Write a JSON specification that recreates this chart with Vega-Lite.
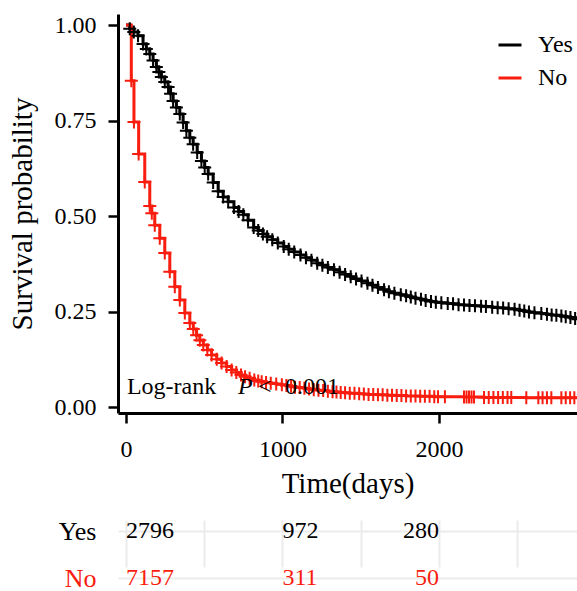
{
  "$schema": "https://vega.github.io/schema/vega-lite/v6.json",
  "padding": {"left": 8, "top": 13, "right": 0, "bottom": 0},
  "bounds": "flush",
  "spacing": 94,
  "config": {
    "font": "Liberation Serif",
    "view": {"stroke": null},
    "axis": {"labelColor": "#000000", "titleColor": "#000000", "titleFontWeight": "normal", "domainColor": "#000000", "tickColor": "#000000"}
  },
  "resolve": {"scale": {"color": "independent"}, "legend": {"color": "independent"}},
  "datasets": {
    "km": [
      {"g": "Yes", "t": 0, "s": 1.0},
      {"g": "Yes", "t": 24, "s": 0.99},
      {"g": "Yes", "t": 50, "s": 0.982},
      {"g": "Yes", "t": 77, "s": 0.972},
      {"g": "Yes", "t": 109, "s": 0.95},
      {"g": "Yes", "t": 130, "s": 0.937},
      {"g": "Yes", "t": 152, "s": 0.924},
      {"g": "Yes", "t": 173, "s": 0.907},
      {"g": "Yes", "t": 194, "s": 0.89},
      {"g": "Yes", "t": 210, "s": 0.877},
      {"g": "Yes", "t": 226, "s": 0.864},
      {"g": "Yes", "t": 248, "s": 0.851},
      {"g": "Yes", "t": 269, "s": 0.838},
      {"g": "Yes", "t": 285, "s": 0.82},
      {"g": "Yes", "t": 301, "s": 0.801},
      {"g": "Yes", "t": 322, "s": 0.784},
      {"g": "Yes", "t": 344, "s": 0.767},
      {"g": "Yes", "t": 365, "s": 0.745},
      {"g": "Yes", "t": 386, "s": 0.723},
      {"g": "Yes", "t": 408, "s": 0.705},
      {"g": "Yes", "t": 429, "s": 0.688},
      {"g": "Yes", "t": 455, "s": 0.666},
      {"g": "Yes", "t": 482, "s": 0.644},
      {"g": "Yes", "t": 503, "s": 0.627},
      {"g": "Yes", "t": 525, "s": 0.61},
      {"g": "Yes", "t": 557, "s": 0.588},
      {"g": "Yes", "t": 589, "s": 0.565},
      {"g": "Yes", "t": 621, "s": 0.55},
      {"g": "Yes", "t": 653, "s": 0.537},
      {"g": "Yes", "t": 690, "s": 0.522},
      {"g": "Yes", "t": 720, "s": 0.512},
      {"g": "Yes", "t": 750, "s": 0.503},
      {"g": "Yes", "t": 780, "s": 0.489},
      {"g": "Yes", "t": 816, "s": 0.47},
      {"g": "Yes", "t": 845, "s": 0.462},
      {"g": "Yes", "t": 875, "s": 0.453},
      {"g": "Yes", "t": 902, "s": 0.446},
      {"g": "Yes", "t": 935, "s": 0.438},
      {"g": "Yes", "t": 970, "s": 0.429},
      {"g": "Yes", "t": 1008, "s": 0.42},
      {"g": "Yes", "t": 1040, "s": 0.413},
      {"g": "Yes", "t": 1075, "s": 0.406},
      {"g": "Yes", "t": 1115, "s": 0.398},
      {"g": "Yes", "t": 1150, "s": 0.391},
      {"g": "Yes", "t": 1185, "s": 0.384},
      {"g": "Yes", "t": 1222, "s": 0.376},
      {"g": "Yes", "t": 1255, "s": 0.371},
      {"g": "Yes", "t": 1290, "s": 0.365},
      {"g": "Yes", "t": 1329, "s": 0.359},
      {"g": "Yes", "t": 1365, "s": 0.353},
      {"g": "Yes", "t": 1400, "s": 0.347},
      {"g": "Yes", "t": 1436, "s": 0.341},
      {"g": "Yes", "t": 1470, "s": 0.335},
      {"g": "Yes", "t": 1505, "s": 0.33},
      {"g": "Yes", "t": 1543, "s": 0.324},
      {"g": "Yes", "t": 1575, "s": 0.319},
      {"g": "Yes", "t": 1610, "s": 0.313},
      {"g": "Yes", "t": 1649, "s": 0.307},
      {"g": "Yes", "t": 1680, "s": 0.302},
      {"g": "Yes", "t": 1715, "s": 0.298},
      {"g": "Yes", "t": 1756, "s": 0.294},
      {"g": "Yes", "t": 1790, "s": 0.291},
      {"g": "Yes", "t": 1820, "s": 0.288},
      {"g": "Yes", "t": 1850, "s": 0.285},
      {"g": "Yes", "t": 1885, "s": 0.282},
      {"g": "Yes", "t": 1915, "s": 0.279},
      {"g": "Yes", "t": 1949, "s": 0.276},
      {"g": "Yes", "t": 1980, "s": 0.274},
      {"g": "Yes", "t": 2015, "s": 0.273},
      {"g": "Yes", "t": 2056, "s": 0.271},
      {"g": "Yes", "t": 2090, "s": 0.27},
      {"g": "Yes", "t": 2125, "s": 0.268},
      {"g": "Yes", "t": 2160, "s": 0.267},
      {"g": "Yes", "t": 2195, "s": 0.266},
      {"g": "Yes", "t": 2230, "s": 0.265},
      {"g": "Yes", "t": 2269, "s": 0.264},
      {"g": "Yes", "t": 2300, "s": 0.263},
      {"g": "Yes", "t": 2340, "s": 0.261},
      {"g": "Yes", "t": 2375, "s": 0.26},
      {"g": "Yes", "t": 2410, "s": 0.259},
      {"g": "Yes", "t": 2445, "s": 0.257},
      {"g": "Yes", "t": 2483, "s": 0.256},
      {"g": "Yes", "t": 2515, "s": 0.253},
      {"g": "Yes", "t": 2545, "s": 0.251},
      {"g": "Yes", "t": 2575, "s": 0.249},
      {"g": "Yes", "t": 2610, "s": 0.247},
      {"g": "Yes", "t": 2654, "s": 0.245},
      {"g": "Yes", "t": 2690, "s": 0.243},
      {"g": "Yes", "t": 2720, "s": 0.241},
      {"g": "Yes", "t": 2750, "s": 0.24},
      {"g": "Yes", "t": 2782, "s": 0.238},
      {"g": "Yes", "t": 2810, "s": 0.236},
      {"g": "Yes", "t": 2840, "s": 0.234},
      {"g": "Yes", "t": 2870, "s": 0.232},
      {"g": "Yes", "t": 2889, "s": 0.23},
      {"g": "No", "t": 0, "s": 1.0},
      {"g": "No", "t": 34, "s": 0.854},
      {"g": "No", "t": 51, "s": 0.746},
      {"g": "No", "t": 81, "s": 0.662},
      {"g": "No", "t": 120, "s": 0.589},
      {"g": "No", "t": 152, "s": 0.526},
      {"g": "No", "t": 165, "s": 0.507},
      {"g": "No", "t": 184, "s": 0.476},
      {"g": "No", "t": 216, "s": 0.442},
      {"g": "No", "t": 248, "s": 0.403},
      {"g": "No", "t": 280, "s": 0.354},
      {"g": "No", "t": 312, "s": 0.315},
      {"g": "No", "t": 344, "s": 0.28},
      {"g": "No", "t": 376, "s": 0.246},
      {"g": "No", "t": 408, "s": 0.22},
      {"g": "No", "t": 430, "s": 0.204},
      {"g": "No", "t": 451, "s": 0.188},
      {"g": "No", "t": 472, "s": 0.175},
      {"g": "No", "t": 494, "s": 0.162},
      {"g": "No", "t": 520, "s": 0.149},
      {"g": "No", "t": 547, "s": 0.136},
      {"g": "No", "t": 580, "s": 0.125},
      {"g": "No", "t": 611, "s": 0.115},
      {"g": "No", "t": 643, "s": 0.106},
      {"g": "No", "t": 675, "s": 0.097},
      {"g": "No", "t": 705, "s": 0.09},
      {"g": "No", "t": 735, "s": 0.084},
      {"g": "No", "t": 761, "s": 0.079},
      {"g": "No", "t": 790, "s": 0.075},
      {"g": "No", "t": 820, "s": 0.071},
      {"g": "No", "t": 845, "s": 0.068},
      {"g": "No", "t": 867, "s": 0.066},
      {"g": "No", "t": 895, "s": 0.064},
      {"g": "No", "t": 925, "s": 0.062},
      {"g": "No", "t": 960, "s": 0.06},
      {"g": "No", "t": 996, "s": 0.058},
      {"g": "No", "t": 1025, "s": 0.056},
      {"g": "No", "t": 1055, "s": 0.054},
      {"g": "No", "t": 1080, "s": 0.052},
      {"g": "No", "t": 1110, "s": 0.051},
      {"g": "No", "t": 1140, "s": 0.049},
      {"g": "No", "t": 1170, "s": 0.047},
      {"g": "No", "t": 1200, "s": 0.045},
      {"g": "No", "t": 1230, "s": 0.044},
      {"g": "No", "t": 1260, "s": 0.043},
      {"g": "No", "t": 1290, "s": 0.041},
      {"g": "No", "t": 1320, "s": 0.04},
      {"g": "No", "t": 1345, "s": 0.039},
      {"g": "No", "t": 1372, "s": 0.038},
      {"g": "No", "t": 1400, "s": 0.037},
      {"g": "No", "t": 1430, "s": 0.036},
      {"g": "No", "t": 1460, "s": 0.036},
      {"g": "No", "t": 1490, "s": 0.035},
      {"g": "No", "t": 1520, "s": 0.034},
      {"g": "No", "t": 1550, "s": 0.033},
      {"g": "No", "t": 1580, "s": 0.033},
      {"g": "No", "t": 1610, "s": 0.032},
      {"g": "No", "t": 1640, "s": 0.032},
      {"g": "No", "t": 1670, "s": 0.031},
      {"g": "No", "t": 1700, "s": 0.031},
      {"g": "No", "t": 1730, "s": 0.03},
      {"g": "No", "t": 1760, "s": 0.03},
      {"g": "No", "t": 1790, "s": 0.029},
      {"g": "No", "t": 1820, "s": 0.029},
      {"g": "No", "t": 1850, "s": 0.029},
      {"g": "No", "t": 1880, "s": 0.028},
      {"g": "No", "t": 1910, "s": 0.028},
      {"g": "No", "t": 1940, "s": 0.028},
      {"g": "No", "t": 1970, "s": 0.027},
      {"g": "No", "t": 1994, "s": 0.027},
      {"g": "No", "t": 2038, "s": 0.027},
      {"g": "No", "t": 2160, "s": 0.026},
      {"g": "No", "t": 2176, "s": 0.026},
      {"g": "No", "t": 2192, "s": 0.026},
      {"g": "No", "t": 2208, "s": 0.026},
      {"g": "No", "t": 2224, "s": 0.026},
      {"g": "No", "t": 2288, "s": 0.025},
      {"g": "No", "t": 2318, "s": 0.025},
      {"g": "No", "t": 2348, "s": 0.025},
      {"g": "No", "t": 2378, "s": 0.025},
      {"g": "No", "t": 2408, "s": 0.025},
      {"g": "No", "t": 2438, "s": 0.025},
      {"g": "No", "t": 2462, "s": 0.025},
      {"g": "No", "t": 2558, "s": 0.024},
      {"g": "No", "t": 2635, "s": 0.024},
      {"g": "No", "t": 2662, "s": 0.024},
      {"g": "No", "t": 2690, "s": 0.024},
      {"g": "No", "t": 2718, "s": 0.024},
      {"g": "No", "t": 2782, "s": 0.024},
      {"g": "No", "t": 2810, "s": 0.024},
      {"g": "No", "t": 2838, "s": 0.024},
      {"g": "No", "t": 2865, "s": 0.024},
      {"g": "No", "t": 2890, "s": 0.024}
    ],
    "risk": [
      {"g": "Yes", "t": 0, "n": 2796},
      {"g": "Yes", "t": 1000, "n": 972},
      {"g": "Yes", "t": 2000, "n": 280},
      {"g": "No", "t": 0, "n": 7157},
      {"g": "No", "t": 1000, "n": 311},
      {"g": "No", "t": 2000, "n": 50}
    ],
    "note": [
      {"part": "Log-rank", "t": 6, "s": 0.034},
      {"part": "P", "t": 716, "s": 0.034},
      {"part": "<", "t": 843, "s": 0.034},
      {"part": "0.001", "t": 1016, "s": 0.034}
    ]
  },
  "vconcat": [
    {
      "width": 459,
      "height": 399,
      "encoding": {
        "x": {
          "field": "t", "type": "quantitative",
          "scale": {"domain": [-51, 2882], "nice": false, "zero": false},
          "axis": {"values": [0, 1000, 2000], "format": "d", "labelFontSize": 24, "tickSize": 10, "tickWidth": 2.5, "domainWidth": 3, "labelPadding": 14, "title": "Time(days)", "titleFontSize": 29, "titlePadding": 8, "grid": false, "labelFlush": false}
        },
        "y": {
          "field": "s", "type": "quantitative",
          "scale": {"domain": [-0.0157, 1.0288], "nice": false, "zero": false},
          "axis": {"values": [0, 0.25, 0.5, 0.75, 1], "format": ".2f", "labelFontSize": 24, "tickSize": 10, "tickWidth": 2.5, "domainWidth": 3, "labelPadding": 12, "title": "Survival probability", "titleFontSize": 29, "titlePadding": 17, "grid": false}
        }
      },
      "layer": [
        {
          "data": {"name": "km"},
          "mark": {"type": "line", "interpolate": "step-after", "strokeWidth": 3, "clip": true},
          "encoding": {
            "color": {
              "field": "g", "type": "nominal",
              "scale": {"domain": ["Yes", "No"], "range": ["#000000", "#f81d0e"]},
              "legend": {"title": null, "orient": "none", "legendX": 379, "legendY": 18, "symbolType": "stroke", "symbolStrokeWidth": 3, "symbolSize": 529, "labelFontSize": 24, "labelOffset": 15, "rowPadding": 8, "padding": 0, "labelColor": "#000000"}
            }
          }
        },
        {
          "data": {"name": "km"},
          "transform": [{"filter": "datum.t > 0"}],
          "mark": {"type": "point", "shape": "M-1,0L1,0M0,-1L0,1", "size": 169, "filled": false, "strokeWidth": 2, "opacity": 1, "clip": true},
          "encoding": {
            "color": {
              "field": "g", "type": "nominal",
              "scale": {"domain": ["Yes", "No"], "range": ["#000000", "#f81d0e"]},
              "legend": {"title": null, "orient": "none", "legendX": 379, "legendY": 18, "symbolType": "stroke", "symbolStrokeWidth": 3, "symbolSize": 529, "labelFontSize": 24, "labelOffset": 15, "rowPadding": 8, "padding": 0, "labelColor": "#000000"}
            }
          }
        },
        {
          "data": {"name": "note"},
          "transform": [{"filter": "datum.part !== 'P'"}],
          "mark": {"type": "text", "align": "left", "baseline": "alphabetic", "fontSize": 24, "color": "#000000"},
          "encoding": {"text": {"field": "part", "type": "nominal"}}
        },
        {
          "data": {"name": "note"},
          "transform": [{"filter": "datum.part === 'P'"}],
          "mark": {"type": "text", "align": "left", "baseline": "alphabetic", "fontSize": 24, "fontStyle": "italic", "color": "#000000"},
          "encoding": {"text": {"field": "part", "type": "nominal"}}
        }
      ]
    },
    {
      "width": 459,
      "height": 84,
      "data": {"name": "risk"},
      "encoding": {
        "x": {
          "field": "t", "type": "quantitative",
          "scale": {"domain": [-51, 2882], "nice": false, "zero": false},
          "axis": {"values": [0, 500, 1000, 1500, 2000, 2500], "labels": false, "ticks": false, "domain": false, "grid": true, "gridColor": "#ebebeb", "gridWidth": 2, "title": null}
        },
        "y": {
          "field": "g", "type": "nominal",
          "scale": {"type": "point", "domain": ["Yes", "No"], "range": [24, 71], "padding": 0},
          "axis": {"title": null, "labelFontSize": 26, "ticks": false, "domain": false, "grid": true, "gridColor": "#ebebeb", "gridWidth": 2, "labelPadding": 22, "labelColor": {"expr": "datum.value === 'No' ? '#f81d0e' : '#000000'"}}
        },
        "color": {
          "field": "g", "type": "nominal",
          "scale": {"domain": ["Yes", "No"], "range": ["#000000", "#f81d0e"]},
          "legend": null
        },
        "text": {"field": "n", "type": "nominal"}
      },
      "layer": [
        {
          "transform": [{"filter": "datum.t < 2000"}],
          "mark": {"type": "text", "align": "left", "baseline": "middle", "fontSize": 24}
        },
        {
          "transform": [{"filter": "datum.t >= 2000"}],
          "mark": {"type": "text", "align": "right", "baseline": "middle", "fontSize": 24}
        }
      ]
    }
  ]
}
